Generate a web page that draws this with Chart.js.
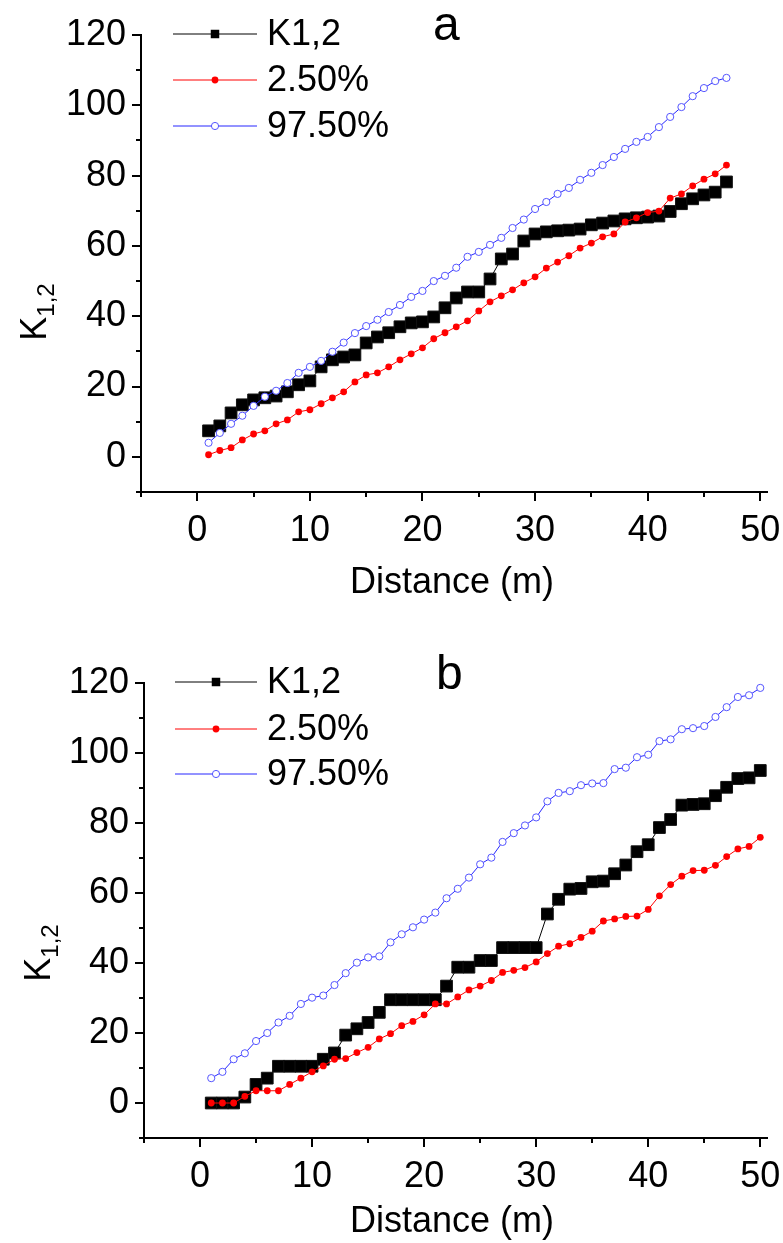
<!DOCTYPE html>
<html><head><meta charset="utf-8">
<script src="https://cdn.jsdelivr.net/npm/chart.js@4.4.0/dist/chart.umd.min.js"></script>
<style>
html,body{margin:0;padding:0;background:#fff;}
#wrap{position:relative;width:783px;height:1243px;background:#fff;}
canvas{position:absolute;left:0;}
#ca{top:0px;}
#cb{top:621px;}
</style></head><body>
<div id="wrap"><canvas id="ca" width="783" height="621"></canvas><canvas id="cb" width="783" height="622"></canvas></div>
<script>
// ---------- data ----------
const seriesNames = ['K1,2', '2.50%', '97.50%'];
const xTickLabels = [0, 10, 20, 30, 40, 50];
const yTickLabels = [0, 20, 40, 60, 80, 100, 120];

// panel a
const distA = [1,2,3,4,5,6,7,8,9,10,11,12,13,14,15,16,17,18,19,20,21,22,23,24,25,26,27,28,29,30,31,32,33,34,35,36,37,38,39,40,41,42,43,44,45,46,47];
const k12A  = [7.4,8.8,12.5,14.8,16.2,16.8,17.3,18.5,20.5,21.6,25.6,27.6,28.4,29.0,32.4,34.1,35.3,37.0,38.1,38.4,39.8,42.4,45.2,46.9,46.9,50.6,56.3,57.7,61.4,63.4,64.0,64.3,64.5,64.8,66.0,66.5,67.1,67.7,68.0,68.2,68.5,69.8,72.0,73.4,74.5,75.3,78.2];
const lowA  = [0.6,1.8,2.6,4.8,6.5,7.4,9.4,10.5,12.8,13.4,15.1,16.8,18.5,21.3,23.3,23.9,25.6,27.6,29.3,31.0,33.6,35.3,37.0,38.7,41.5,44.1,45.8,47.5,49.5,51.2,53.7,55.4,57.2,59.4,60.8,62.6,63.4,66.8,68.0,69.5,69.9,73.6,74.8,77.1,79.0,80.5,83.0];
const highA = [4.0,6.8,9.4,11.7,14.5,17.1,18.8,21.0,23.9,25.6,27.3,29.9,32.5,35.2,37.2,39.0,41.2,43.2,45.5,47.2,50.0,51.5,53.8,56.9,58.3,60.3,62.3,65.1,67.5,70.5,72.5,74.8,76.5,78.8,80.8,83.0,85.3,87.6,89.6,91.0,93.8,96.7,99.5,102.6,104.9,106.9,107.8];

// panel b
const distB = [1,2,3,4,5,6,7,8,9,10,11,12,13,14,15,16,17,18,19,20,21,22,23,24,25,26,27,28,29,30,31,32,33,34,35,36,37,38,39,40,41,42,43,44,45,46,47,48,49,50];
const k12B  = [0,0,0,1.7,5.3,7.1,10.5,10.5,10.5,10.5,12.5,14.3,19.4,21.2,23.0,25.9,29.5,29.5,29.5,29.5,29.5,33.4,38.8,38.8,40.7,40.7,44.4,44.4,44.4,44.4,54.0,58.2,61.1,61.3,63.2,63.4,65.5,68.0,71.8,73.8,78.7,81.0,85.1,85.3,85.5,87.8,90.2,92.7,92.9,95.0];
const lowB  = [0,0,0,1.9,3.5,3.5,3.5,5.3,7.1,8.9,10.6,12.5,12.7,14.4,15.9,18.3,19.8,22.1,23.3,25.2,28.3,28.3,30.3,32.3,33.4,35.0,37.3,37.9,38.7,40.3,42.7,44.8,45.5,47.3,49.1,52.0,52.6,53.3,53.4,55.3,59.2,62.4,64.8,66.4,66.5,67.9,70.4,72.6,73.3,75.9];
const highB = [7.1,8.9,12.5,14.2,17.7,20.0,23.0,24.9,28.3,30.1,30.7,33.7,37.1,40.1,41.6,41.9,45.9,48.2,50.2,52.4,54.4,58.5,61.2,64.4,68.2,70.1,74.6,77.1,79.3,81.6,86.2,88.6,89.1,90.8,91.3,91.4,95.4,95.8,98.8,99.5,103.4,103.9,106.8,107.1,107.7,110.3,113.1,116.0,116.5,118.6];

// ---------- helpers ----------
const FONT = '"Liberation Sans", Arial, sans-serif';
const NARROW = '"Liberation Sans Narrow", "Liberation Sans", Arial, sans-serif';

function pts(xs, ys) { return xs.map((x, i) => ({ x: x, y: ys[i] })); }

const styles = [
  { line: '#000000', pointStyle: 'rect', r: 8.3, fill: '#000000', stroke: '#111111', bw: 1, lr: 6 },
  { line: '#ff0000', pointStyle: 'circle', r: 3.4, fill: '#ff0000', stroke: '#ff0000', bw: 0, lr: 3.4 },
  { line: '#2626ff', pointStyle: 'circle', r: 3.6, fill: '#ffffff', stroke: '#5555ff', bw: 1, lr: 3.6 }
];

const decoPlugin = {
  id: 'deco',
  afterDraw(chart, args, o) {
    const ctx = chart.ctx;
    const xs = chart.scales.x, ys = chart.scales.y;
    const ca = chart.chartArea;
    ctx.save();
    // tick marks
    ctx.strokeStyle = '#000';
    ctx.lineWidth = 2;
    xs.ticks.forEach(t => {
      const px = Math.round(xs.getPixelForValue(t.value));
      const len = (t.value % 10 === 0) ? 9 : 5;
      ctx.beginPath(); ctx.moveTo(px, ca.bottom); ctx.lineTo(px, ca.bottom + len); ctx.stroke();
    });
    ys.ticks.forEach(t => {
      const py = Math.round(ys.getPixelForValue(t.value));
      const len = (t.value % 20 === 0) ? 9 : 5;
      ctx.beginPath(); ctx.moveTo(ca.left, py); ctx.lineTo(ca.left - len, py); ctx.stroke();
    });
    // x title
    ctx.fillStyle = '#000';
    ctx.font = '36px ' + FONT;
    ctx.textAlign = 'center';
    ctx.textBaseline = 'middle';
    ctx.fillText('Distance (m)', o.xTitleX, o.xTitleY);
    // y title with subscript
    ctx.save();
    ctx.translate(o.yTitleX, o.yTitleY);
    ctx.rotate(-Math.PI / 2);
    ctx.textAlign = 'left';
    ctx.textBaseline = 'alphabetic';
    ctx.font = '36px ' + FONT;
    const kw = ctx.measureText('K').width;
    ctx.font = '24px ' + FONT;
    const sw = ctx.measureText('1,2').width;
    const start = -(kw + sw) / 2;
    ctx.font = '36px ' + FONT;
    ctx.fillText('K', start, 0);
    ctx.font = '24px ' + FONT;
    ctx.fillText('1,2', start + kw, 8);
    ctx.restore();
    // panel letter
    ctx.font = '48px ' + FONT;
    ctx.textAlign = 'left';
    ctx.textBaseline = 'alphabetic';
    ctx.fillText(o.letter, o.letterX, o.letterY);
    // legend
    seriesNames.forEach((name, i) => {
      const st = styles[i];
      const y = o.legY[i];
      ctx.strokeStyle = st.line;
      ctx.lineWidth = 1;
      ctx.beginPath(); ctx.moveTo(o.legX1, y); ctx.lineTo(o.legX2, y); ctx.stroke();
      const mx = (o.legX1 + o.legX2) / 2;
      ctx.fillStyle = st.fill;
      ctx.strokeStyle = st.stroke;
      ctx.lineWidth = st.bw;
      if (st.pointStyle === 'rect') {
        const s = st.lr * Math.SQRT1_2;
        ctx.fillRect(mx - s, y - s, 2 * s, 2 * s);
      } else {
        ctx.beginPath(); ctx.arc(mx, y, st.lr, 0, Math.PI * 2); ctx.fill();
        if (st.bw > 0) ctx.stroke();
      }
      ctx.fillStyle = '#000';
      ctx.font = '36px ' + FONT;
      ctx.textAlign = 'left';
      ctx.textBaseline = 'middle';
      ctx.fillText(name, o.legText, y + 1);
    });
    ctx.restore();
  }
};

function makeChart(id, H, dist, k, lo, hi, box, deco) {
  const series = [k, lo, hi];
  const datasets = series.map((vals, i) => {
    const st = styles[i];
    return {
      label: seriesNames[i],
      data: pts(dist, vals),
      borderColor: st.line,
      borderWidth: 1,
      pointStyle: st.pointStyle,
      pointRadius: st.r,
      pointBackgroundColor: st.fill,
      pointBorderColor: st.stroke,
      pointBorderWidth: st.bw,
      tension: 0,
      order: 3 - i,
      clip: false
    };
  });
  return new Chart(document.getElementById(id), {
    type: 'line',
    data: { datasets },
    options: {
      responsive: false,
      animation: false,
      devicePixelRatio: 1,
      layout: { padding: { top: box.top, right: 783 - box.right, left: 0, bottom: 0 } },
      plugins: { legend: { display: false }, tooltip: { enabled: false }, deco: deco },
      scales: {
        x: {
          type: 'linear', min: -5, max: 50.6,
          afterFit: s => { s.height = H - box.bottom; s.paddingLeft = 0; s.paddingRight = 0; },
          grid: { display: false, drawTicks: false },
          border: { display: true, color: '#000', width: 2 },
          ticks: {
            stepSize: 5, includeBounds: false, autoSkip: false, maxRotation: 0,
            padding: 17, color: '#000', font: { family: NARROW, size: 36 },
            callback: v => xTickLabels.includes(v) ? String(v) : ''
          }
        },
        y: {
          min: -10, max: 120,
          afterFit: s => { s.width = box.left; s.paddingTop = 0; s.paddingBottom = 0; },
          grid: { display: false, drawTicks: false },
          border: { display: true, color: '#000', width: 2 },
          ticks: {
            stepSize: 10, includeBounds: false, autoSkip: false,
            padding: 15, color: '#000', font: { family: FONT, size: 36 },
            callback: v => yTickLabels.includes(v) ? String(v) : ''
          }
        }
      }
    },
    plugins: [decoPlugin]
  });
}

makeChart('ca', 621, distA, k12A, lowA, highA,
  { left: 141, top: 35, bottom: 492, right: 767 },
  { xTitleX: 452, xTitleY: 583, yTitleX: 46, yTitleY: 312, letter: 'a', letterX: 433, letterY: 40,
    legX1: 173, legX2: 257, legText: 267, legY: [34, 80, 126] });

makeChart('cb', 622, distB, k12B, lowB, highB,
  { left: 144, top: 62, bottom: 517, right: 767 },
  { xTitleX: 452, xTitleY: 601, yTitleX: 50, yTitleY: 332, letter: 'b', letterX: 436, letterY: 68,
    legX1: 175, legX2: 257, legText: 267, legY: [61, 108, 153] });
</script>
</body></html>
